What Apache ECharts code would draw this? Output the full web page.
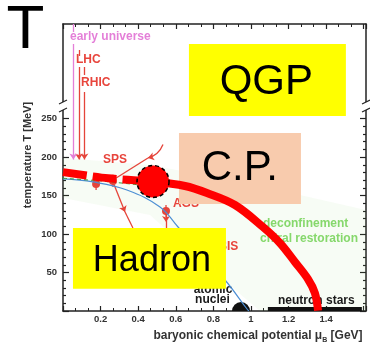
<!DOCTYPE html>
<html><head><meta charset="utf-8">
<script src="https://cdn.jsdelivr.net/npm/echarts@6/dist/echarts.min.js"></script>
<style>html,body{margin:0;padding:0;background:#fff}#c{width:370px;height:344px}</style>
</head><body><div id="c"></div>
<script>
// ---------------- data (x: baryonic chemical potential in GeV, y: temperature in MeV) ----------------
const xTickLabels = [0.2, 0.4, 0.6, 0.8, 1.0, 1.2, 1.4];
const yTickLabels = [50, 100, 150, 200, 250];
const yMajorTicks = [0, 50, 100, 150, 200, 250];
const yMinorTicks = [10, 20, 30, 40, 60, 70, 80, 90, 110, 120, 130, 140, 160, 170, 180, 190, 210, 220, 230, 240];

// thick red phase boundary
const crossoverLine = [[0, 180.5], [0.24, 172.5], [0.479, 168.3]];
const firstOrderLine = [[0.479, 168.3], [0.649, 162.5], [0.766, 153.4], [0.915, 137.8], [1.064, 109.2], [1.154, 88.4], [1.234, 63.7], [1.303, 41.6], [1.340, 23.4], [1.357, 0.5]];
const criticalPoint = [[0.479, 168.3]];

// thin background curves
const blueLine = [[0, 171.6], [0.16, 167.7], [0.34, 157.3], [0.516, 135.2], [0.612, 109.2], [0.862, 40.3], [0.979, 2.6], [0.989, 0]];
const greenDashed = [[0, 172.5], [0.2, 169], [0.42, 163.5]];
const bandUpper = [[0, 198.9], [0.463, 189.8], [0.888, 170.3], [1.261, 150.8], [1.612, 131.3]];
const bandLower = [[1.612, 0], [1.048, 0], [0.729, 66.3], [0.463, 124.8], [0, 146.9]];

// experiments: vertical arrows
const universeX = 0.055, lhcX = 0.085, rhicX = 0.114;
const arrowEndT = 197;
const plainSegments = [
  [[lhcX, 339.2], [lhcX, 331.4]],
  [[rhicX, 317.1], [rhicX, 306.7]],
  [[0.452, 198.9], [0.266, 170.2]],
  [[0.330, 128.7], [0.372, 107.9]],
  [[0.548, 115.7], [0.548, 107.9]]
];
const pinkSegments = [[[universeX, 373], [universeX, 362.6]]];
const arrowSegmentsPink = [[[universeX, 347], [universeX, arrowEndT]]];
const arrowSegmentsRed = [
  [[lhcX, 317.1], [lhcX, arrowEndT]],
  [[rhicX, 284.6], [rhicX, arrowEndT]],
  [[0.266, 167.7], [0.330, 128.7]],
  [[0.548, 128.7], [0.548, 115.7]]
];
const spsCurve = [[[0.532, 216.4], [0.452, 198.9]]];

// freeze-out points with error bars
const freezeOut = [[0.176, 165.1], [0.266, 169.0], [0.548, 129.9]];
const freezeErr = [8, 8, 8];

const nucleiMarker = [[0.947, 0]];
const neutronStarBar = [[[1.09, 2.5], [1.59, 2.5]]];

// text annotations
const annotations = [
  { text: 'early universe', x: 0.037, y: 356.1, kind: 'pink', align: 'left' },
  { text: 'LHC', x: 0.069, y: 326.2, kind: 'red', align: 'left' },
  { text: 'RHIC', x: 0.096, y: 296.3, kind: 'red', align: 'left' },
  { text: 'SPS', x: 0.277, y: 196.3, kind: 'red', align: 'center' },
  { text: 'AGS', x: 0.654, y: 139.1, kind: 'red', align: 'center' },
  { text: 'SIS', x: 0.830, y: 83.2, kind: 'red', align: 'left' },
  { text: 'deconfinement', x: 1.064, y: 113.1, kind: 'green', align: 'left' },
  { text: 'chiral restoration', x: 1.048, y: 93.6, kind: 'green', align: 'left' },
  { text: 'atomic', x: 0.798, y: 27.3, kind: 'black', align: 'center' },
  { text: 'nuclei', x: 0.795, y: 14.3, kind: 'black', align: 'center' },
  { text: 'neutron stars', x: 1.348, y: 13.0, kind: 'black', align: 'center' }
];

// region boxes (extent and label centre)
const regionBoxes = [
  { label: 'QGP', x0: 0.670, x1: 1.505, y0: 253.4, y1: 347.0, tx: 1.082, ty: 296.9, kind: 'yellow', size: 42 },
  { label: 'C.P.', x0: 0.617, x1: 1.266, y0: 139.1, y1: 231.3, tx: 0.941, ty: 185.9, kind: 'salmon', size: 42 },
  { label: 'Hadron', x0: 0.053, x1: 0.867, y0: 28.8, y1: 107.9, tx: 0.473, ty: 65.0, kind: 'yellow', size: 36 }
];

// ---------------- styles ----------------
const FONT = '"Liberation Sans", Arial, sans-serif';
const textColors = { pink: '#e47fd8', red: '#e8453c', green: '#86d86c', black: '#1a1a1a' };
const boxColors = { yellow: '#ffff00', salmon: '#f8cbad' };
const trajColor = '#e5443a';
const axisColor = '#222';

const chart = echarts.init(document.getElementById('c'), null, { renderer: 'canvas' });

function xAxisBase(pos) {
  return {
    type: 'value', min: 0, max: 1.612, interval: 0.2, position: pos,
    axisLine: { show: true, onZero: false, lineStyle: { color: axisColor, width: 1.5 } },
    axisTick: { show: true, inside: true, length: 5, lineStyle: { color: axisColor, width: 1.2 } },
    minorTick: { show: true, splitNumber: 3, length: 3, lineStyle: { color: axisColor, width: 1 } },
    splitLine: { show: false }
  };
}
function yAxisBase(pos, ticks, len, showLine) {
  return {
    type: 'value', min: 0, max: 373, interval: 50, position: pos,
    axisLine: { show: showLine, onZero: false, lineStyle: { color: axisColor, width: 1.5 } },
    axisTick: { show: true, inside: true, length: len, customValues: ticks, lineStyle: { color: axisColor, width: 1.2 } },
    axisLabel: { show: false },
    splitLine: { show: false }
  };
}

const xBottom = xAxisBase('bottom');
xBottom.axisLabel = { show: true, customValues: xTickLabels, margin: 3, fontSize: 9.5, fontWeight: 'bold', color: '#333', fontFamily: FONT };
const xTop = xAxisBase('top');
xTop.axisLabel = { show: false };

const yLeft = yAxisBase('left', yMajorTicks, 6, true);
yLeft.axisLabel = { show: true, customValues: yTickLabels, margin: 6, fontSize: 9.5, fontWeight: 'bold', color: '#333', fontFamily: FONT };

function segData(segs) { return segs.map(s => ({ coords: s })); }

const option = {
  animation: false,
  backgroundColor: '#fff',
  grid: { left: 63, right: 4, top: 24, bottom: 33, containLabel: false },
  xAxis: [xBottom, xTop],
  yAxis: [yLeft, yAxisBase('left', yMinorTicks, 3, false), yAxisBase('right', yMajorTicks, 6, true), yAxisBase('right', yMinorTicks, 3, false)],
  series: [
    { // transition band
      type: 'custom', z: 1, silent: true, data: [[0, 0]],
      renderItem: (params, api) => {
        const pts = bandUpper.concat(bandLower).map(p => api.coord(p));
        return { type: 'polygon', shape: { points: pts }, style: { fill: 'rgba(140,215,110,0.07)' } };
      }
    },
    { type: 'line', z: 2, data: blueLine, smooth: 0.4, showSymbol: false, lineStyle: { color: '#4d8fd4', width: 1.2 } },
    { type: 'line', z: 2, data: greenDashed, smooth: 0.3, showSymbol: false, lineStyle: { color: '#3c9a3c', width: 1, type: [4, 3] } },
    { type: 'lines', coordinateSystem: 'cartesian2d', z: 2, data: segData(plainSegments), symbol: 'none',
      lineStyle: { color: trajColor, width: 1.3, opacity: 1 } },
    { type: 'lines', coordinateSystem: 'cartesian2d', z: 2, data: segData(arrowSegmentsRed), symbol: ['none', 'arrow'], symbolSize: 6,
      lineStyle: { color: trajColor, width: 1.3, opacity: 1 } },
    { type: 'lines', coordinateSystem: 'cartesian2d', z: 2, data: segData(spsCurve), symbol: ['none', 'arrow'], symbolSize: 6,
      lineStyle: { color: trajColor, width: 1.3, opacity: 1, curveness: 0.25 } },
    { type: 'lines', coordinateSystem: 'cartesian2d', z: 2, data: segData(arrowSegmentsPink), symbol: ['none', 'arrow'], symbolSize: 6,
      lineStyle: { color: textColors.pink, width: 1.3, opacity: 1 } },
    { type: 'lines', coordinateSystem: 'cartesian2d', z: 2, data: segData(pinkSegments), symbol: 'none',
      lineStyle: { color: textColors.pink, width: 1.3, opacity: 1 } },
    { // freeze-out points with error bars
      type: 'custom', z: 2, data: freezeOut,
      renderItem: (params, api) => {
        const i = params.dataIndex;
        const x = api.value(0), y = api.value(1);
        const c = api.coord([x, y]);
        const t = api.coord([x, y + freezeErr[i]]);
        const b = api.coord([x, y - freezeErr[i]]);
        return { type: 'group', children: [
          { type: 'line', shape: { x1: t[0], y1: t[1], x2: b[0], y2: b[1] }, style: { stroke: trajColor, lineWidth: 1.3 } },
          { type: 'circle', shape: { cx: c[0], cy: c[1], r: 4 }, style: { fill: trajColor } }
        ] };
      }
    },
    { // atomic nuclei marker
      type: 'custom', z: 2, data: nucleiMarker,
      renderItem: (params, api) => {
        const c = api.coord([api.value(0), api.value(1)]);
        return { type: 'sector', shape: { cx: c[0], cy: c[1], r: 9, r0: 0, startAngle: Math.PI, endAngle: Math.PI * 2, clockwise: true }, style: { fill: '#111' } };
      }
    },
    { type: 'lines', coordinateSystem: 'cartesian2d', z: 2, data: segData(neutronStarBar), symbol: 'none',
      lineStyle: { color: '#111', width: 4, opacity: 1 } },
    { // annotations
      type: 'custom', z: 2, data: annotations.map(a => [a.x, a.y]),
      renderItem: (params, api) => {
        const a = annotations[params.dataIndex];
        const p = api.coord([a.x, a.y]);
        return { type: 'text', x: p[0], y: p[1], style: { text: a.text, fill: textColors[a.kind], font: 'bold 12px ' + FONT, align: a.align, verticalAlign: 'middle' } };
      }
    },
    { // region boxes
      type: 'custom', z: 3, data: regionBoxes.map(b => [b.x0, b.y0]),
      renderItem: (params, api) => {
        const b = regionBoxes[params.dataIndex];
        const p0 = api.coord([b.x0, b.y1]);
        const p1 = api.coord([b.x1, b.y0]);
        const t = api.coord([b.tx, b.ty]);
        return { type: 'group', children: [
          { type: 'rect', shape: { x: p0[0], y: p0[1], width: p1[0] - p0[0], height: p1[1] - p0[1] }, style: { fill: boxColors[b.kind] } },
          { type: 'text', x: t[0], y: t[1], style: { text: b.label, fill: '#000', font: b.size + 'px ' + FONT, align: 'center', verticalAlign: 'middle' } }
        ] };
      }
    },
    { type: 'line', z: 4, data: crossoverLine, smooth: 0.3, showSymbol: false, lineStyle: { color: '#ff0000', width: 8, type: [24, 6], cap: 'butt' } },
    { type: 'line', z: 4, data: firstOrderLine, smooth: 0.35, showSymbol: false, lineStyle: { color: '#ff0000', width: 8, cap: 'butt' } },
    { type: 'scatter', z: 5, data: criticalPoint, symbol: 'circle', symbolSize: 32,
      itemStyle: { color: '#ff0000', borderColor: '#000', borderWidth: 1.5, borderType: [4, 3], opacity: 1 } }
  ],
  graphic: [
    { type: 'text', x: 25.5, y: 31, z: 100, style: { text: 'T', font: '62px ' + FONT, fill: '#000', align: 'center', verticalAlign: 'middle' } },
    { type: 'text', x: 28, y: 155, rotation: Math.PI / 2, z: 100, style: { text: 'temperature T [MeV]', font: 'bold 11px ' + FONT, fill: '#333', align: 'center', verticalAlign: 'middle' } },
    { type: 'text', x: 258, y: 336, z: 100, style: {
        text: 'baryonic chemical potential μ{s|B} [GeV]', fontSize: 12, fontWeight: 'bold', fontFamily: FONT, fill: '#333', align: 'center', verticalAlign: 'middle',
        rich: { s: { fontSize: 7, fontWeight: 'bold', fontFamily: FONT, fill: '#333', verticalAlign: 'bottom', lineHeight: 16 } } } },
    // axis break marks
    { type: 'rect', z: 100, shape: { x: 59, y: 102, width: 8, height: 8 }, style: { fill: '#fff' } },
    { type: 'line', z: 101, shape: { x1: 59, y1: 104, x2: 67, y2: 100 }, style: { stroke: axisColor, lineWidth: 1.2 } },
    { type: 'line', z: 101, shape: { x1: 59, y1: 112, x2: 67, y2: 108 }, style: { stroke: axisColor, lineWidth: 1.2 } },
    { type: 'rect', z: 100, shape: { x: 362, y: 102, width: 8, height: 8 }, style: { fill: '#fff' } },
    { type: 'line', z: 101, shape: { x1: 362, y1: 104, x2: 370, y2: 100 }, style: { stroke: axisColor, lineWidth: 1.2 } },
    { type: 'line', z: 101, shape: { x1: 362, y1: 112, x2: 370, y2: 108 }, style: { stroke: axisColor, lineWidth: 1.2 } }
  ]
};
chart.setOption(option);
</script>
</body></html>
